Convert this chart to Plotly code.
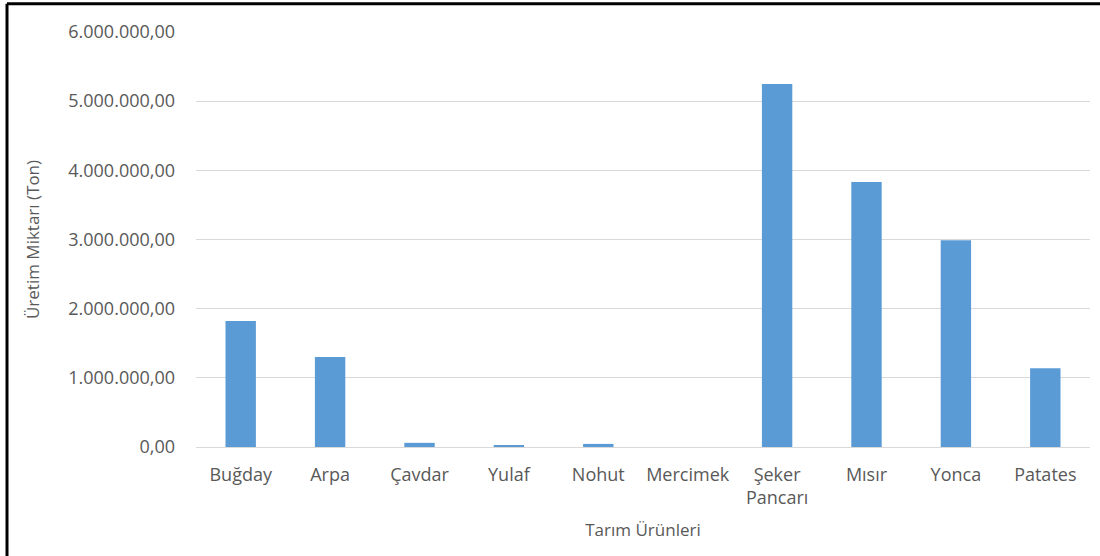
import plotly.graph_objects as go

# Tarım ürünleri ve üretim miktarları (ton)
urunler = ["Buğday", "Arpa", "Çavdar", "Yulaf", "Nohut", "Mercimek",
           "Şeker<br>Pancarı", "Mısır", "Yonca", "Patates"]
uretim_ton = [1820000, 1300000, 60000, 25000, 45000, 0,
              5250000, 3830000, 2990000, 1140000]

y_ticks = [0, 1000000, 2000000, 3000000, 4000000, 5000000, 6000000]

text_color = "#595959"
font_family = "Open Sans, Noto Sans, sans-serif"

fig = go.Figure()
fig.add_trace(go.Bar(
    x=urunler,
    y=uretim_ton,
    marker=dict(color="#5B9BD5", line=dict(width=0)),
    width=0.34,
))

fig.update_layout(
    width=1100,
    height=556,
    margin=dict(l=196, r=10, t=32, b=109),
    paper_bgcolor="white",
    plot_bgcolor="white",
    separators=",.",
    showlegend=False,
    font=dict(family=font_family, color=text_color, size=18),
    xaxis=dict(
        title=dict(text="Tarım Ürünleri", font=dict(size=17, color=text_color), standoff=16),
        tickfont=dict(size=18, color=text_color),
        showgrid=False,
        showline=True,
        linecolor="#D9D9D9",
        linewidth=1,
        ticks="",
        ticklabelstandoff=11,
    ),
    yaxis=dict(
        title=dict(text="Üretim Miktarı (Ton)", font=dict(size=17, color=text_color), standoff=24),
        range=[0, 6000000],
        tickvals=y_ticks,
        tickformat=",.2f",
        tickfont=dict(size=18, color=text_color),
        showgrid=True,
        gridcolor="#D9D9D9",
        gridwidth=1,
        zeroline=False,
        ticks="",
        ticklabelstandoff=20,
    ),
    shapes=[
        # Dış çerçeve (sol ve üst kenar)
        dict(type="line", xref="paper", yref="paper",
             x0=-0.2114, x1=-0.2114, y0=1.068, y1=-0.27,
             line=dict(color="black", width=3)),
        dict(type="line", xref="paper", yref="paper",
             x0=-0.2114, x1=1.02, y0=1.068, y1=1.068,
             line=dict(color="black", width=3)),
    ],
)

fig.write_html("out.html")
